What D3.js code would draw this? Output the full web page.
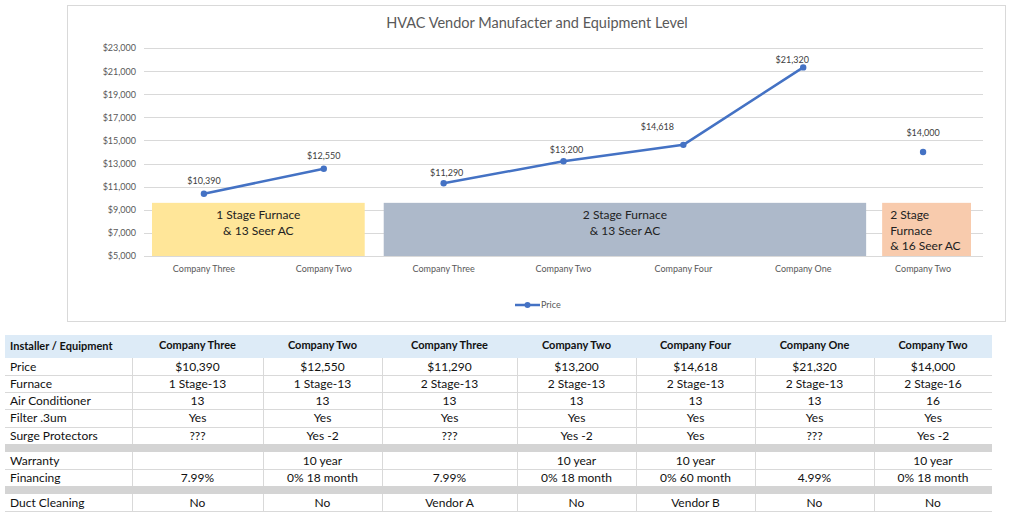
<!DOCTYPE html>
<html>
<head>
<meta charset="utf-8">
<script src="https://cdnjs.cloudflare.com/ajax/libs/d3/7.8.5/d3.min.js"></script>
<style>
  body { margin: 0; background: #fff; }
  svg { display: block; font-family: Lato, "Open Sans", sans-serif; }
</style>
</head>
<body>
<svg id="viz" width="1019" height="515"></svg>
<script>
const svg = d3.select("#viz");

// chart data
const installers = ["Company Three", "Company Two", "Company Three", "Company Two", "Company Four", "Company One", "Company Two"];
const prices = [10390, 12550, 11290, 13200, 14618, 21320, 14000];
const lineGroup = [0, 0, 1, 1, 1, 1, 2]; // which points are joined
const yTicks = [5000, 7000, 9000, 11000, 13000, 15000, 17000, 19000, 21000, 23000];

// equipment level boxes
const boxFrom = [0, 2, 6];
const boxTo = [1, 5, 6];
const boxTop = [9600, 9600, 9600];
const boxLabels = [
  ["1 Stage Furnace", "& 13 Seer AC"],
  ["2 Stage Furnace", "& 13 Seer AC"],
  ["2 Stage", "Furnace", "& 16 Seer AC"]
];

// table data
const rowLabels = ["Price", "Furnace", "Air Conditioner", "Filter .3um", "Surge Protectors", null, "Warranty", "Financing", null, "Duct Cleaning"];
const rowValues = [
  ["$10,390", "$12,550", "$11,290", "$13,200", "$14,618", "$21,320", "$14,000"],
  ["1 Stage-13", "1 Stage-13", "2 Stage-13", "2 Stage-13", "2 Stage-13", "2 Stage-13", "2 Stage-16"],
  ["13", "13", "13", "13", "13", "13", "16"],
  ["Yes", "Yes", "Yes", "Yes", "Yes", "Yes", "Yes"],
  ["???", "Yes -2", "???", "Yes -2", "Yes", "???", "Yes -2"],
  null,
  ["", "10 year", "", "10 year", "10 year", "", "10 year"],
  ["7.99%", "0% 18 month", "7.99%", "0% 18 month", "0% 60 month", "4.99%", "0% 18 month"],
  null,
  ["No", "No", "Vendor A", "No", "Vendor B", "No", "No"]
];

// ---- chart ----
const blue = "#4472C4";

svg.append("rect")
  .attr("x", 67.5).attr("y", 5.5)
  .attr("width", 938).attr("height", 316)
  .attr("fill", "#fff").attr("stroke", "#D9D9D9");

svg.append("text")
  .attr("x", 537).attr("y", 28)
  .attr("text-anchor", "middle")
  .attr("fill", "#595959")
  .style("font-size", "14.5px")
  .text("HVAC Vendor Manufacter and Equipment Level");

const x = d3.scaleBand().domain(d3.range(installers.length)).range([144, 983]);
const y = d3.scaleLinear().domain([5000, 23000]).range([256, 48]);
const cx = i => x(i) + x.bandwidth() / 2;

// gridlines
svg.append("g")
  .selectAll("line")
  .data(yTicks)
  .join("line")
  .attr("x1", 144).attr("x2", 983)
  .attr("y1", d => Math.round(y(d)) + 0.5)
  .attr("y2", d => Math.round(y(d)) + 0.5)
  .attr("stroke", "#D9D9D9");

// y axis labels
const yAxis = svg.append("g")
  .attr("transform", "translate(136,0)")
  .call(d3.axisLeft(y).tickValues(yTicks).tickSize(0).tickPadding(0).tickFormat(d => "$" + d3.format(",")(d)));
yAxis.select(".domain").remove();
yAxis.selectAll("text").attr("fill", "#595959").style("font-size", "9px").style("font-family", "Lato, sans-serif");

// x axis labels
const xAxis = svg.append("g")
  .attr("transform", "translate(0,266)")
  .call(d3.axisBottom(x).tickSize(0).tickPadding(0).tickFormat(i => installers[i]));
xAxis.select(".domain").remove();
xAxis.selectAll("text").attr("fill", "#595959").style("font-size", "9px").style("font-family", "Lato, sans-serif");

// boxes
const boxColors = ["#FFE699", "#ADB9CA", "#F8CBAD"];
const boxInset = [[8, -19], [0, 3], [19, -12]]; // left / right adjustments
const boxAlign = ["middle", "middle", "start"];
boxFrom.forEach((f, i) => {
  const x0 = x(f) + boxInset[i][0];
  const x1 = x(boxTo[i]) + x.bandwidth() + boxInset[i][1];
  const y0 = y(boxTop[i]);
  svg.append("rect")
    .attr("x", x0).attr("y", y0)
    .attr("width", x1 - x0).attr("height", y(5000) - y0)
    .attr("fill", boxColors[i]);
  const tx = boxAlign[i] === "middle" ? (x0 + x1) / 2 : x0 + 8;
  svg.append("g").selectAll("text")
    .data(boxLabels[i])
    .join("text")
    .attr("x", tx)
    .attr("y", (d, k) => 219 + k * 15.5)
    .attr("text-anchor", boxAlign[i])
    .attr("fill", "#222")
    .style("font-size", "12px")
    .text(d => d);
});

// price line
const pts = prices.map((p, i) => ({ i, p, g: lineGroup[i] }));
const line = d3.line().x(d => cx(d.i)).y(d => y(d.p));
d3.groups(pts, d => d.g).forEach(([, g]) => {
  if (g.length > 1) {
    svg.append("path")
      .attr("d", line(g))
      .attr("fill", "none")
      .attr("stroke", blue)
      .attr("stroke-width", 2.5)
      .attr("stroke-linejoin", "round");
  }
});
svg.append("g").selectAll("circle")
  .data(pts)
  .join("circle")
  .attr("cx", d => cx(d.i)).attr("cy", d => y(d.p))
  .attr("r", 3.2).attr("fill", blue);

// data labels
const labelNudge = [[0, -10], [0, -10], [3, -7], [3, -8], [-26, -15], [-11, -4], [0, -16]];
svg.append("g").selectAll("text")
  .data(pts)
  .join("text")
  .attr("x", d => cx(d.i) + labelNudge[d.i][0])
  .attr("y", d => y(d.p) + labelNudge[d.i][1])
  .attr("text-anchor", "middle")
  .attr("fill", "#404040")
  .style("font-size", "9px")
  .text(d => "$" + d3.format(",")(d.p));

// legend
const lg = svg.append("g").attr("transform", "translate(515,305)");
lg.append("line").attr("x1", 0).attr("x2", 25).attr("stroke", blue).attr("stroke-width", 2.5);
lg.append("circle").attr("cx", 12.5).attr("r", 3).attr("fill", blue);
lg.append("text").attr("x", 26).attr("y", 3).attr("fill", "#595959").style("font-size", "9px").text("Price");

// ---- table ----
const colEdges = [5, 132, 263, 382, 517, 636, 755, 874, 992];
const headerTop = 335, headerH = 23;
const rowH = [17, 17, 17, 18, 17, 8, 17, 17, 8, 17];
const tableFont = "Lato, sans-serif";
const tbl = svg.append("g").style("font-family", tableFont);

tbl.append("rect")
  .attr("x", colEdges[0]).attr("y", headerTop)
  .attr("width", colEdges[8] - colEdges[0]).attr("height", headerH)
  .attr("fill", "#DDEBF7");

tbl.append("text")
  .attr("x", 10).attr("y", headerTop + 15)
  .style("font-size", "11px").style("font-weight", "bold").attr("fill", "#111")
  .text("Installer / Equipment");
tbl.selectAll(".hdr")
  .data(installers)
  .join("text")
  .attr("class", "hdr")
  .attr("x", (d, i) => (colEdges[i + 1] + colEdges[i + 2]) / 2)
  .attr("y", headerTop + 14)
  .attr("text-anchor", "middle")
  .style("font-size", "11px").style("font-weight", "bold").attr("fill", "#111")
  .text(d => d);

let ry = headerTop + headerH;
const rowTops = rowH.map(h => { const t = ry; ry += h; return t; });

rowLabels.forEach((lab, r) => {
  const top = rowTops[r];
  if (lab === null) {
    tbl.append("rect")
      .attr("x", colEdges[0]).attr("y", top)
      .attr("width", colEdges[8] - colEdges[0]).attr("height", rowH[r])
      .attr("fill", "#D4D4D4");
    return;
  }
  tbl.append("line")
    .attr("x1", colEdges[0]).attr("x2", colEdges[8])
    .attr("y1", top + rowH[r] + 0.5).attr("y2", top + rowH[r] + 0.5)
    .attr("stroke", "#D9D9D9");
  // vertical dividers
  colEdges.slice(1, 8).forEach(cxv => {
    tbl.append("line")
      .attr("x1", cxv + 0.5).attr("x2", cxv + 0.5)
      .attr("y1", top).attr("y2", top + rowH[r])
      .attr("stroke", "#D9D9D9");
  });
  tbl.append("text")
    .attr("x", 10).attr("y", top + 13)
    .style("font-size", "12px").attr("fill", "#111")
    .text(lab);
  tbl.selectAll(null)
    .data(rowValues[r])
    .join("text")
    .attr("x", (d, i) => (colEdges[i + 1] + colEdges[i + 2]) / 2)
    .attr("y", top + 13)
    .attr("text-anchor", "middle")
    .style("font-size", "12px").attr("fill", "#111")
    .text(d => d);
});
</script>
</body>
</html>
